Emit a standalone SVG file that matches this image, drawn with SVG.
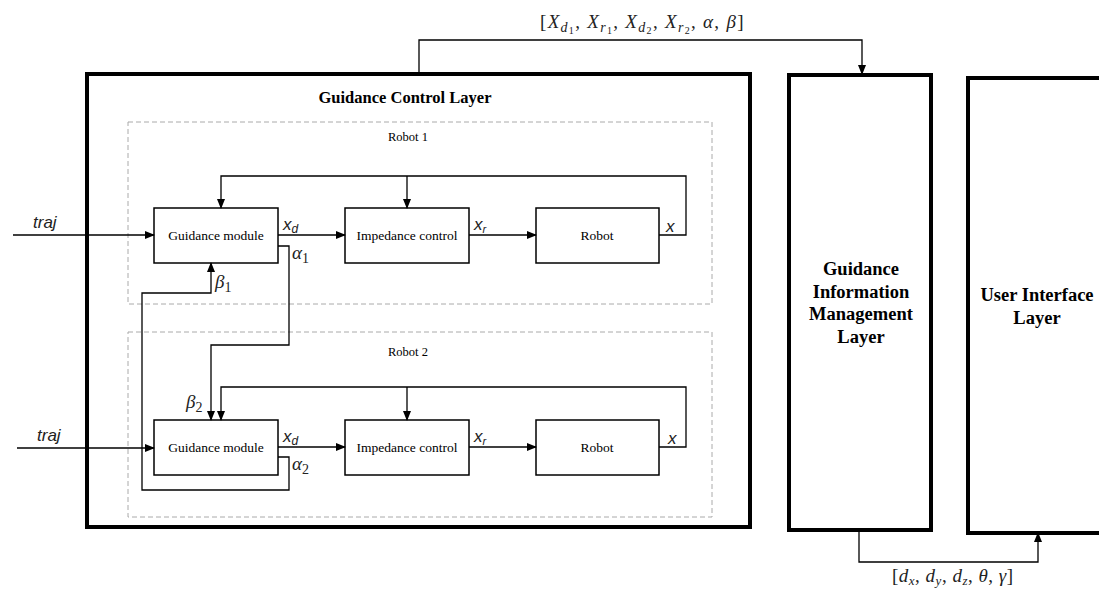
<svg xmlns="http://www.w3.org/2000/svg" width="1099" height="593" viewBox="0 0 1099 593">
<style>
.layer{fill:#fff;stroke:#000;stroke-width:4}
.blk{fill:#fff;stroke:#000;stroke-width:1.5}
.dash{fill:none;stroke:#aaa;stroke-width:1;stroke-dasharray:5 3}
.ln{fill:none;stroke:#000;stroke-width:1.3}
.arr{marker-end:url(#ah)}
.bt{font-family:"Liberation Serif",serif;font-weight:bold;font-size:18.5px;text-anchor:middle}
.tt{font-family:"Liberation Serif",serif;font-weight:bold;font-size:16.5px;text-anchor:middle}
.st{font-family:"Liberation Serif",serif;font-size:13.5px;text-anchor:middle}
.rl{font-family:"Liberation Serif",serif;font-size:12.5px;text-anchor:middle}
.sig{font-family:"Liberation Sans",sans-serif;font-style:italic;font-size:17px;fill:#222}
.math{font-family:"Liberation Serif",serif;font-size:19px;fill:#222}
.mi{font-style:italic}
</style>
<defs>
<marker id="ah" markerWidth="10" markerHeight="8" refX="9" refY="4" orient="auto" markerUnits="userSpaceOnUse">
<path d="M0,0 L10,4 L0,8 Z" fill="#000"/>
</marker>
</defs>
<rect width="1099" height="593" fill="#fff"/>
<g id="guidance-control-layer">
<rect class="layer" x="87" y="74" width="663" height="453"/>
<text class="tt" x="405" y="103">Guidance Control Layer</text>
</g>
<g id="robot1-group">
<rect class="dash" x="128" y="122" width="584" height="182"/>
<text class="rl" x="408" y="141">Robot 1</text>
</g>
<g id="robot2-group">
<rect class="dash" x="128" y="332" width="584" height="185"/>
<text class="rl" x="408" y="356">Robot 2</text>
</g>
<g id="giml">
<rect class="layer" x="789" y="75" width="142" height="455"/>
<text class="bt" x="861" y="275">Guidance</text>
<text class="bt" x="861" y="298">Information</text>
<text class="bt" x="861" y="320">Management</text>
<text class="bt" x="861" y="343">Layer</text>
</g>
<g id="ui-layer">
<rect class="layer" x="968" y="78" width="140" height="455"/>
<text class="bt" x="1037" y="301">User Interface</text>
<text class="bt" x="1037" y="324">Layer</text>
</g>
<g id="gm1"><rect class="blk" x="154" y="208" width="124" height="55"/><text class="st" x="216" y="240">Guidance module</text></g>
<g id="ic1"><rect class="blk" x="345" y="208" width="124" height="55"/><text class="st" x="407" y="240">Impedance control</text></g>
<g id="rb1"><rect class="blk" x="536" y="208" width="123" height="55"/><text class="st" x="597" y="240">Robot</text></g>
<g id="gm2"><rect class="blk" x="154" y="420" width="124" height="55"/><text class="st" x="216" y="452">Guidance module</text></g>
<g id="ic2"><rect class="blk" x="345" y="420" width="124" height="55"/><text class="st" x="407" y="452">Impedance control</text></g>
<g id="rb2"><rect class="blk" x="536" y="420" width="123" height="55"/><text class="st" x="597" y="452">Robot</text></g>
<g id="connectors">
<path class="ln arr" d="M13,235 H154"/>
<path class="ln arr" d="M278,235 H345"/>
<path class="ln arr" d="M469,235 H536"/>
<path class="ln arr" d="M659,235 H686 V176 H221 V208"/>
<path class="ln arr" d="M407,176 V208"/>
<path class="ln arr" d="M17,448 H154"/>
<path class="ln arr" d="M278,447 H345"/>
<path class="ln arr" d="M469,447 H536"/>
<path class="ln arr" d="M659,447 H686 V387 H221 V420"/>
<path class="ln arr" d="M407,387 V420"/>
<path class="ln arr" d="M278,246 H289 V345 H211 V420"/>
<path class="ln arr" d="M278,457 H289 V490 H142 V293 H211 V263"/>
<path class="ln arr" d="M419,74 V40 H862 V74"/>
<path class="ln arr" d="M859,530 V562 H1038 V533"/>
</g>
<g id="labels">
<text class="sig" x="33" y="228">traj</text>
<text class="sig" x="37" y="441">traj</text>
<text class="sig" x="283" y="230">x<tspan font-size="12" dy="3">d</tspan></text>
<text class="sig" x="283" y="442">x<tspan font-size="12" dy="3">d</tspan></text>
<text class="sig" x="474" y="230">x<tspan font-size="11" dy="3">r</tspan></text>
<text class="sig" x="474" y="442">x<tspan font-size="11" dy="3">r</tspan></text>
<text class="sig" x="666" y="232">x</text>
<text class="sig" x="668" y="444">x</text>
<text class="math" x="292" y="259"><tspan class="mi">α</tspan><tspan font-size="14" dy="4">1</tspan></text>
<text class="math" x="292" y="470"><tspan class="mi">α</tspan><tspan font-size="14" dy="4">2</tspan></text>
<text class="math" x="215" y="288"><tspan class="mi">β</tspan><tspan font-size="14" dy="4">1</tspan></text>
<text class="math" x="186" y="408"><tspan class="mi">β</tspan><tspan font-size="14" dy="4">2</tspan></text>
<text class="math" x="540" y="28" font-size="21" letter-spacing="1.3">[<tspan class="mi">X</tspan><tspan class="mi" font-size="14" dy="4">d</tspan><tspan font-size="10" dy="2">1</tspan><tspan dy="-6">, </tspan><tspan class="mi">X</tspan><tspan class="mi" font-size="14" dy="4">r</tspan><tspan font-size="10" dy="2">1</tspan><tspan dy="-6">, </tspan><tspan class="mi">X</tspan><tspan class="mi" font-size="14" dy="4">d</tspan><tspan font-size="10" dy="2">2</tspan><tspan dy="-6">, </tspan><tspan class="mi">X</tspan><tspan class="mi" font-size="14" dy="4">r</tspan><tspan font-size="10" dy="2">2</tspan><tspan dy="-6">, </tspan><tspan class="mi">α</tspan>, <tspan class="mi">β</tspan>]</text>
<text class="math" x="892" y="582" font-size="20" letter-spacing="0.5">[<tspan class="mi">d</tspan><tspan class="mi" font-size="13" dy="3">x</tspan><tspan dy="-3">, </tspan><tspan class="mi">d</tspan><tspan class="mi" font-size="13" dy="3">y</tspan><tspan dy="-3">, </tspan><tspan class="mi">d</tspan><tspan class="mi" font-size="13" dy="3">z</tspan><tspan dy="-3">, </tspan><tspan class="mi">θ</tspan>, <tspan class="mi">γ</tspan>]</text>
</g>
</svg>
